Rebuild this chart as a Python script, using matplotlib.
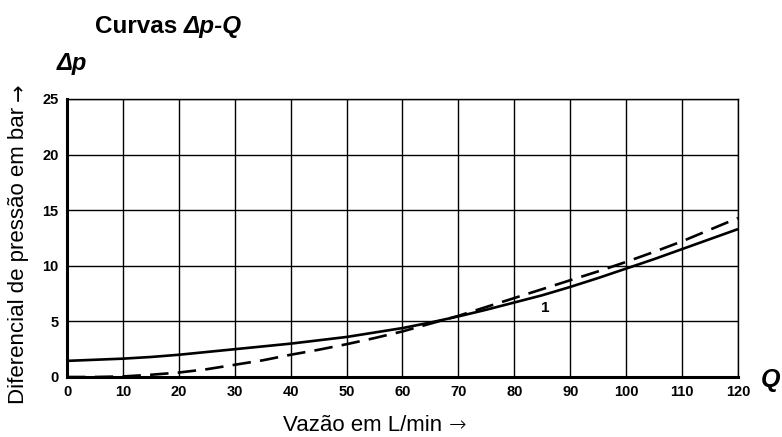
import matplotlib
matplotlib.use("Agg")
import matplotlib.pyplot as plt
import numpy as np

plt.rcParams['font.family'] = ['Liberation Sans', 'DejaVu Sans']

flow = [0, 5, 10, 15, 20, 25, 30, 35, 40, 45, 50, 55, 60, 65, 70, 75, 80, 85, 90, 95, 100, 105, 110, 115, 120]
curve_solid = [1.45, 1.55, 1.65, 1.8, 2.0, 2.25, 2.5, 2.75, 3.0, 3.3, 3.6, 4.0, 4.4, 4.9, 5.45, 6.05, 6.7, 7.35, 8.1, 8.9, 9.75, 10.6, 11.5, 12.4, 13.3]
flow_dashed = [0, 5, 10, 15, 20, 25, 30, 35, 40, 45, 50, 55, 60, 65, 70, 75, 80, 85, 90, 95, 100, 105, 110, 115, 120]
curve_dashed = [0.0, 0.0, 0.05, 0.2, 0.4, 0.7, 1.1, 1.5, 2.0, 2.45, 2.95, 3.5, 4.1, 4.8, 5.5, 6.3, 7.1, 7.9, 8.7, 9.5, 10.35, 11.25, 12.2, 13.25, 14.3]
xticks = [0, 10, 20, 30, 40, 50, 60, 70, 80, 90, 100, 110, 120]
yticks = [0, 5, 10, 15, 20, 25]

fig = plt.figure(figsize=(7.82, 4.37), dpi=100)
ax = fig.add_axes([0.0857, 0.1373, 0.8580, 0.6362])

ax.plot(flow, curve_solid, color='black', lw=1.9, solid_capstyle='butt', zorder=3)
ax.plot(flow_dashed, curve_dashed, color='black', lw=1.9, dashes=(7, 3.5), zorder=3)

ax.set_xlim(0, 120)
ax.set_ylim(0, 25)
ax.set_xticks(xticks)
ax.set_yticks(yticks)
ax.tick_params(length=0, pad=6)
for lab in ax.get_xticklabels() + ax.get_yticklabels():
    lab.set_fontweight('bold')
    lab.set_fontsize(10.5)
ax.grid(True, color='black', lw=1.0)
ax.set_axisbelow(True)
for side in ['top', 'right']:
    ax.spines[side].set_linewidth(1.0)
for side in ['left', 'bottom']:
    ax.spines[side].set_linewidth(2.2)

ax.text(85.5, 6.2, '1', fontsize=11, fontweight='bold', ha='center', va='center')

W, H = fig.bbox.width, fig.bbox.height

# Title: "Curvas " upright bold + "Δp-Q" bold italic
t1 = fig.text(0.121, 0.94, 'Curvas ', fontsize=17.5, fontweight='bold', ha='left', va='center')
fig.canvas.draw()
bb = t1.get_window_extent()
fig.text(bb.x1 / W, 0.94, 'Δp-Q', fontsize=17.5, fontweight='bold', style='italic', ha='left', va='center')

fig.text(0.072, 0.855, 'Δp', fontsize=17, fontweight='bold', style='italic', ha='left', va='center')
fig.text(0.985, 0.13, 'Q', fontsize=18, fontweight='bold', style='italic', ha='center', va='center')

# x label with a long thin arrow
xl = fig.text(0.362, 0.027, 'Vazão em L/min ', fontsize=16, ha='left', va='center')
fig.canvas.draw()
bx = xl.get_window_extent()
fig.text(bx.x1 / W, 0.027, '→', fontsize=15, family=['DejaVu Sans'], fontweight='light',
         ha='left', va='center')

# y label with arrow
yl = fig.text(0.024, 0.075, 'Diferencial de pressão em bar ', rotation=90, fontsize=16,
              ha='center', va='bottom')
fig.canvas.draw()
by = yl.get_window_extent()
fig.text(0.024, by.y1 / H, '→', rotation=90, fontsize=15, family=['DejaVu Sans'],
         ha='center', va='bottom')

fig.savefig('out.png', dpi=100)
